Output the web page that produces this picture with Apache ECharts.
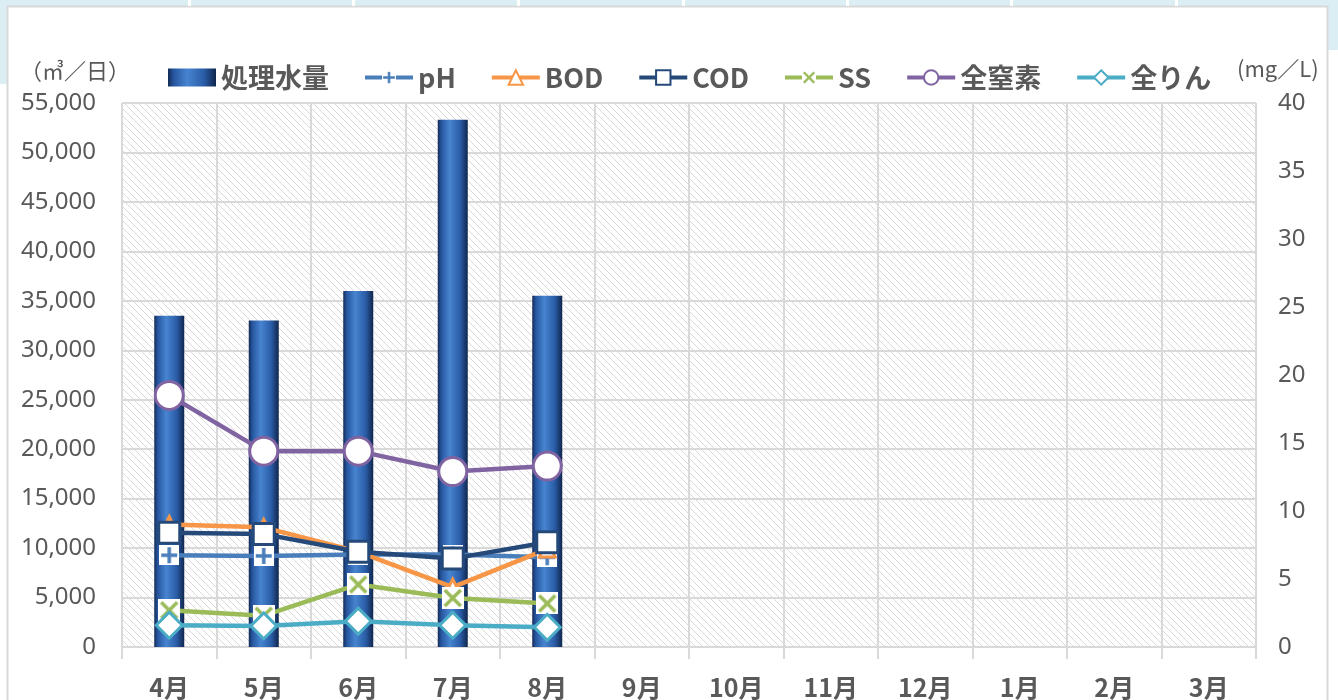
<!DOCTYPE html>
<html><head><meta charset="utf-8">
<script src="https://cdn.jsdelivr.net/npm/echarts@6/dist/echarts.min.js"></script>
<style>html,body{margin:0;padding:0;background:#fff;}#c{width:1338px;height:700px;}</style>
</head><body><div id="c"></div>
<script>
var categories = ['4月','5月','6月','7月','8月','9月','10月','11月','12月','1月','2月','3月'];
var flowValues = [33500, 33000, 36000, 53300, 35500];
var phValues = [6.75, 6.7, 6.8, 6.8, 6.6];
var bodValues = [9.0, 8.8, 7.0, 4.4, 7.2];
var codValues = [8.4, 8.3, 7.0, 6.5, 7.7];
var ssValues = [2.7, 2.3, 4.6, 3.6, 3.2];
var tnValues = [18.5, 14.4, 14.4, 12.9, 13.3];
var tpValues = [1.6, 1.55, 1.9, 1.6, 1.45];
var leftTicks = {min: 0, max: 55000, interval: 5000};
var rightTicks = {min: 0, max: 40, interval: 5};

function mk(w, h, draw) {
  var c = document.createElement('canvas'); c.width = w * 2; c.height = h * 2;
  var g = c.getContext('2d'); g.scale(2, 2); draw(g); return 'image://' + c.toDataURL();
}
var phSym = mk(20, 20, function (g) {
  g.fillStyle = '#fff'; g.fillRect(0, 0, 20, 20);
  g.strokeStyle = '#4a7ebb'; g.lineWidth = 3.5;
  g.beginPath(); g.moveTo(10, 2); g.lineTo(10, 18); g.moveTo(2, 10); g.lineTo(18, 10); g.stroke();
});
var ssSym = mk(22, 22, function (g) {
  g.fillStyle = '#fff'; g.fillRect(0, 0, 22, 22);
  g.strokeStyle = '#9bbb59'; g.lineWidth = 3.5;
  g.beginPath(); g.moveTo(3, 3); g.lineTo(19, 19); g.moveTo(19, 3); g.lineTo(3, 19); g.stroke();
});

var hatch = document.createElement('canvas'); hatch.width = 7; hatch.height = 7;
(function () {
  var g = hatch.getContext('2d'); g.fillStyle = '#fff'; g.fillRect(0, 0, 7, 7);
  g.strokeStyle = '#dadada'; g.lineWidth = 1;
  g.beginPath(); g.moveTo(-1, -1); g.lineTo(8, 8); g.moveTo(-1, 6); g.lineTo(1, 8); g.moveTo(6, -1); g.lineTo(8, 1); g.stroke();
})();

var barColor = new echarts.graphic.LinearGradient(0, 0, 1, 0, [
  {offset: 0, color: '#132b55'}, {offset: 0.12, color: '#2756a0'},
  {offset: 0.4, color: '#4784d0'}, {offset: 0.75, color: '#2a5ca6'},
  {offset: 1, color: '#10264c'}]);

var txt = '#595959';
var lineSeries = function (name, data, color, symbol, size) {
  return {
    name: name, type: 'line', yAxisIndex: 1, data: data,
    symbol: symbol, symbolSize: size,
    lineStyle: {color: color, width: 4.5},
    itemStyle: {color: '#fff', borderColor: color, borderWidth: 3},
    emphasis: {disabled: true}
  };
};

var chart = echarts.init(document.getElementById('c'));
chart.setOption({
  animation: false,
  textStyle: {fontFamily: 'Noto Sans, Noto Sans CJK JP, sans-serif'},
  graphic: [
    {type: 'rect', shape: {x: 0, y: 0, width: 1338, height: 6}, style: {fill: '#daeef3'}, z: -10},
    {type: 'rect', shape: {x: 0, y: 0, width: 7, height: 84}, style: {fill: '#daeef3'}, z: -10},
    {type: 'rect', shape: {x: 1327, y: 0, width: 11, height: 50}, style: {fill: '#daeef3'}, z: -10},
    {type: 'rect', shape: {x: 7.5, y: 6.5, width: 1320, height: 720}, style: {fill: '#fff', stroke: '#d9d9d9', lineWidth: 2}, z: -9},
    {type: 'group', z: -8, children: [188, 352, 517, 682, 846, 1010, 1175].map(function (x) {
      return {type: 'rect', shape: {x: x, y: 0, width: 3, height: 6}, style: {fill: '#fff'}};
    })},
    {type: 'text', left: 20, top: 60, style: {text: '（㎥／日）', fill: txt, font: '22px "Noto Sans CJK JP"'}},
    {type: 'text', left: 1237, top: 58, style: {text: '(mg／L)', fill: txt, font: '22px "Noto Sans CJK JP"'}}
  ],
  legend: {
    left: 163, top: 59, itemWidth: 48, itemHeight: 18, itemGap: 34,
    lineStyle: {width: 4},
    textStyle: {color: txt, fontSize: 27, fontWeight: 'bold', fontFamily: 'Noto Sans CJK JP'},
    data: [{name: '処理水量', icon: 'rect'}, 'pH', 'BOD', 'COD', 'SS', '全窒素', '全りん']
  },
  grid: {left: 122, right: 82, top: 103, bottom: 52, show: true, borderWidth: 0,
    backgroundColor: {image: hatch, repeat: 'repeat'}},
  xAxis: {
    type: 'category', data: categories, boundaryGap: true,
    axisLine: {lineStyle: {color: '#d9d9d9', width: 2}},
    axisTick: {show: true, length: 12, lineStyle: {color: '#d9d9d9', width: 2}},
    splitLine: {show: true, interval: 0, lineStyle: {color: '#d9d9d9', width: 2}},
    axisLabel: {color: txt, fontSize: 25, fontWeight: 'bold', margin: 28, interval: 0, fontFamily: 'Noto Sans CJK JP'}
  },
  yAxis: [
    {type: 'value', min: leftTicks.min, max: leftTicks.max, interval: leftTicks.interval,
      axisLine: {show: false}, axisTick: {show: false},
      splitLine: {lineStyle: {color: '#d9d9d9', width: 2}},
      axisLabel: {color: txt, fontSize: 24, margin: 26,
        formatter: function (v) { return v.toLocaleString('en-US'); }}},
    {type: 'value', min: rightTicks.min, max: rightTicks.max, interval: rightTicks.interval,
      axisLine: {show: false}, axisTick: {show: false}, splitLine: {show: false},
      axisLabel: {color: txt, fontSize: 24, margin: 22, align: 'left'}}
  ],
  series: [
    {name: '処理水量', type: 'bar', data: flowValues, barWidth: 30,
      itemStyle: {color: barColor}, emphasis: {disabled: true}},
    lineSeries('pH', phValues, '#4a7ebb', phSym, 20),
    lineSeries('BOD', bodValues, '#f79646', 'triangle', 16),
    lineSeries('COD', codValues, '#254a7a', 'rect', 21),
    lineSeries('SS', ssValues, '#9bbb59', ssSym, 22),
    lineSeries('全窒素', tnValues, '#8064a2', 'circle', 28),
    lineSeries('全りん', tpValues, '#4bacc6', 'diamond', 26)
  ]
});
</script></body></html>
